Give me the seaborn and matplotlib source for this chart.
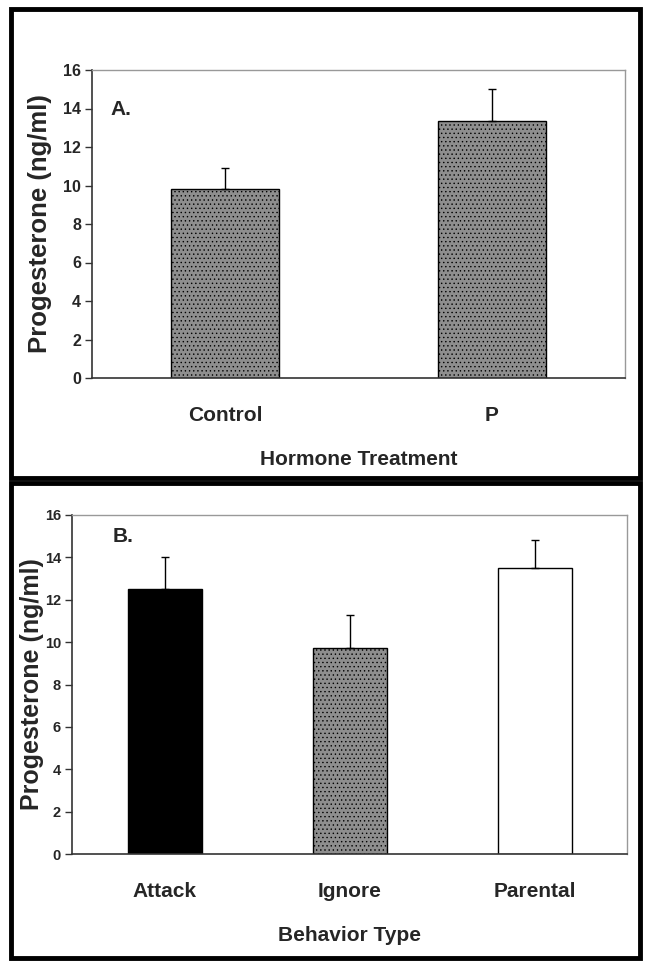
import pandas as pd
import matplotlib.pyplot as plt
import seaborn as sns
from matplotlib.patches import Rectangle

# Panel A: hormone treatment
treat_labels = ["Control", "P"]
treat_means = [9.8, 13.35]
treat_sem = [1.1, 1.65]

# Panel B: behavior type
behav_labels = ["Attack", "Ignore", "Parental"]
behav_means = [12.5, 9.7, 13.5]
behav_sem = [1.5, 1.6, 1.3]
behav_colors = ["#000000", "#8e8e8e", "#ffffff"]

yticks = [0, 2, 4, 6, 8, 10, 12, 14, 16]

sns.set_theme(style="white")
plt.rcParams['font.family'] = ['Liberation Sans', 'DejaVu Sans']
plt.rcParams['font.weight'] = 'bold'
plt.rcParams['hatch.color'] = '#6e6e6e'
plt.rcParams['hatch.linewidth'] = 0.5

W, H = 649, 966
fig = plt.figure(figsize=(W / 100, H / 100), dpi=100)


def px_axes(x0, y0, x1, y1):
    return fig.add_axes([x0 / W, 1 - y1 / H, (x1 - x0) / W, (y1 - y0) / H])


def style_axes(ax, tick_size):
    ax.set_ylim(0, 16)
    ax.set_yticks(yticks)
    ax.set_yticklabels([str(t) for t in yticks], fontsize=tick_size, fontweight='bold')
    for side in ["top", "right"]:
        ax.spines[side].set_color("#999999")
        ax.spines[side].set_linewidth(1.0)
    for side in ["left", "bottom"]:
        ax.spines[side].set_color("#333333")
        ax.spines[side].set_linewidth(1.2)
    ax.tick_params(axis="y", direction="out", length=5, width=1, color="#333333", pad=3, left=True)
    ax.tick_params(axis="x", length=0, pad=20, labelsize=15)
    for lbl in ax.get_xticklabels():
        lbl.set_fontweight('bold')


# ---- Panel A ----
ax1 = px_axes(92, 70, 625, 378)
dfa = pd.DataFrame({"group": treat_labels, "value": treat_means})
sns.barplot(data=dfa, x="group", y="value", ax=ax1, color="#8e8e8e",
            width=0.405, edgecolor="black", linewidth=1, errorbar=None, saturation=1)
for bar in ax1.patches:
    bar.set_hatch("....")
ax1.errorbar(range(len(treat_labels)), treat_means, yerr=[[0] * len(treat_sem), treat_sem],
             fmt="none", ecolor="black", elinewidth=1, capsize=3, capthick=1)
ax1.set_xlim(-0.5, 1.5)
style_axes(ax1, 11.5)
ax1.set_xlabel("Hormone Treatment", fontsize=15, fontweight='bold', labelpad=18)
ax1.set_ylabel("Progesterone (ng/ml)", fontsize=18.5, fontweight='bold')
ax1.yaxis.set_label_coords(-0.075, 0.5)
ax1.text(-0.43, 13.95, "A.", fontsize=15, fontweight='bold', va="center")

# ---- Panel B ----
ax2 = px_axes(72, 515, 627, 854)
dfb = pd.DataFrame({"group": behav_labels, "value": behav_means})
sns.barplot(data=dfb, x="group", y="value", hue="group", ax=ax2,
            palette=behav_colors, legend=False, width=0.4,
            edgecolor="black", linewidth=1, errorbar=None, saturation=1)
ax2.patches[1].set_hatch("....")
ax2.errorbar(range(len(behav_labels)), behav_means, yerr=[[0] * len(behav_sem), behav_sem],
             fmt="none", ecolor="black", elinewidth=1, capsize=3, capthick=1)
ax2.set_xlim(-0.5, 2.5)
style_axes(ax2, 10.5)
ax2.set_xlabel("Behavior Type", fontsize=15, fontweight='bold', labelpad=18)
ax2.set_ylabel("Progesterone (ng/ml)", fontsize=18, fontweight='bold')
ax2.yaxis.set_label_coords(-0.05, 0.5)
ax2.text(-0.28, 15.0, "B.", fontsize=15, fontweight='bold', va="center")

# thick black frames around each panel
for (x0, y0, x1, y1) in [(11, 9, 640, 478), (11, 483, 640, 958)]:
    fig.add_artist(Rectangle((x0 / W, 1 - y1 / H), (x1 - x0) / W, (y1 - y0) / H,
                             transform=fig.transFigure, fill=False,
                             edgecolor="black", linewidth=3.5))

fig.savefig("out.png", dpi=100, facecolor="white")
